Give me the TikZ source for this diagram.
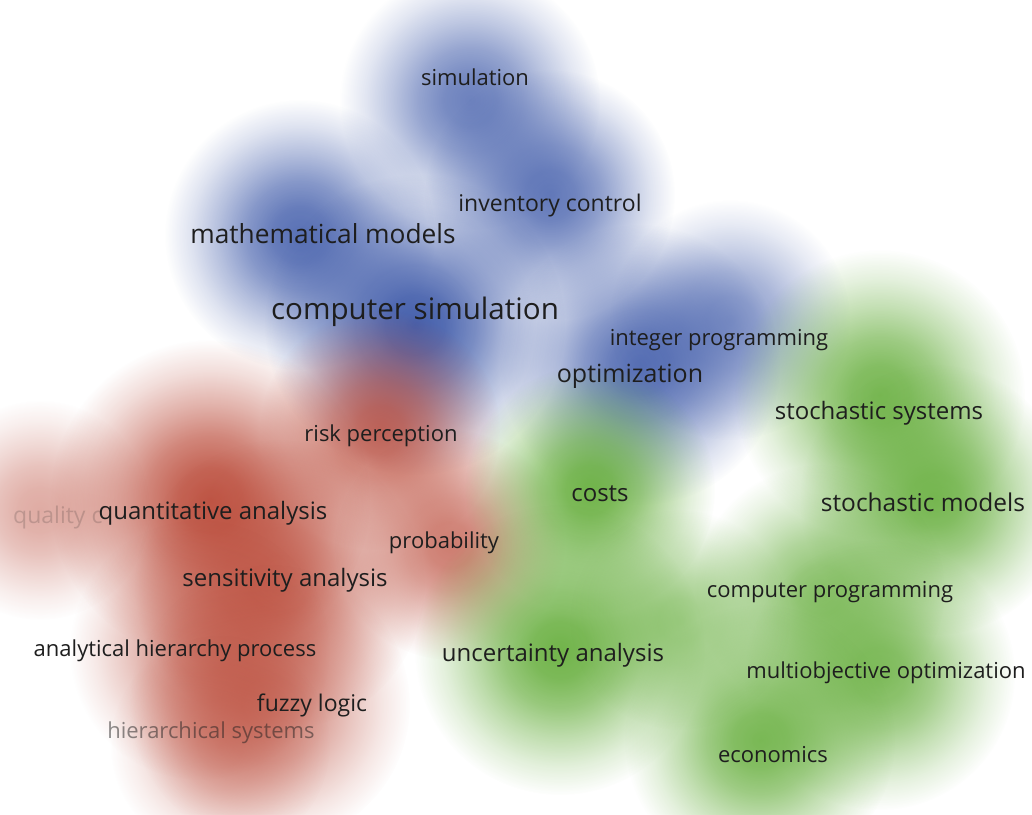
\documentclass[tikz,border=0pt]{standalone}
\usepackage{fontspec}
\setmainfont{Open Sans}
\usetikzlibrary{fadings}
\pgfdeclareradialshading{blobshade}{\pgfpointorigin}{color(0bp)=(white); color(5bp)=(black!8); color(10bp)=(black!28); color(15bp)=(black!55); color(20bp)=(black!80); color(25bp)=(black); color(50bp)=(black)}
\pgfdeclarefading{blob}{\pgfuseshading{blobshade}}
\definecolor{vblue}{RGB}{60,88,168}
\definecolor{vred}{RGB}{185,70,52}
\definecolor{vgreen}{RGB}{98,172,55}
\definecolor{txt}{RGB}{30,30,30}
\begin{document}
\begin{tikzpicture}[x=1pt,y=-1pt,
  lbl/.style={text=txt,inner sep=0pt,font=\fontsize{#1}{#1}\selectfont},
  bb/.style={fill=vblue,path fading=blob,fill opacity=#1},
  rb/.style={fill=vred,path fading=blob,fill opacity=#1},
  gb/.style={fill=vgreen,path fading=blob,fill opacity=#1}]
\fill[white] (0,0) rectangle (1032,814);
\useasboundingbox (0,0) rectangle (1032,814);
% blue
\fill[bb=0.75] (470,100) circle[radius=130pt];
\fill[bb=0.8] (550,195) circle[radius=125pt];
\fill[bb=0.85] (300,235) circle[radius=135pt];
\fill[bb=0.95] (415,325) circle[radius=150pt];
\fill[bb=0.85] (640,365) circle[radius=140pt];
\fill[bb=0.6] (730,320) circle[radius=120pt];
% red
\fill[rb=0.8] (380,430) circle[radius=120pt];
\fill[rb=0.9] (210,500) circle[radius=160pt];
\fill[rb=0.45] (40,510) circle[radius=110pt];
\fill[rb=0.75] (280,585) circle[radius=145pt];
\fill[rb=0.7] (450,545) circle[radius=115pt];
\fill[rb=0.6] (200,650) circle[radius=130pt];
\fill[rb=0.65] (270,705) circle[radius=140pt];
\fill[rb=0.45] (220,745) circle[radius=110pt];
% green
\fill[gb=0.9] (590,490) circle[radius=125pt];
\fill[gb=0.85] (880,395) circle[radius=145pt];
\fill[gb=0.85] (935,500) circle[radius=135pt];
\fill[gb=0.9] (560,650) circle[radius=145pt];
\fill[gb=0.7] (820,590) circle[radius=125pt];
\fill[gb=0.8] (880,675) circle[radius=135pt];
\fill[gb=0.85] (760,740) circle[radius=135pt];
\fill[gb=0.6] (680,620) circle[radius=110pt];
% labels
\node[lbl=22] (simulation) at (475,77) {simulation};
\node[lbl=23] (invctrl) at (550,206) {inventory control};
\node[lbl=26.3] (mathmod) at (323,234) {mathematical models};
\node[lbl=29.6] (compsim) at (415,312) {computer simulation};
\node[lbl=22] (intprog) at (719,340) {integer programming};
\node[lbl=25] (optim) at (630,376) {optimization};
\node[lbl=24] (stochsys) at (879,413) {stochastic systems};
\node[lbl=22] (riskp) at (381,436) {risk perception};
\node[lbl=24] (costs) at (600,494) {costs};
\node[lbl=24.5] (stochmod) at (923,502) {stochastic models};
\node[lbl=23,text opacity=0.18,anchor=west] (qualc) at (13,518) {quality c};
\node[lbl=24] (quant) at (213,513) {quantitative analysis};
\node[lbl=22] (prob) at (444,543) {probability};
\node[lbl=24] (sens) at (285,580) {sensitivity analysis};
\node[lbl=22] (compprog) at (830,592) {computer programming};
\node[lbl=22] (ahp) at (175,651) {analytical hierarchy process};
\node[lbl=24] (unc) at (553,655) {uncertainty analysis};
\node[lbl=22] (multi) at (886,673) {multiobjective optimization};
\node[lbl=23] (fuzzy) at (312,705) {fuzzy logic};
\node[lbl=22,text opacity=0.5] (hiersys) at (211,733) {hierarchical systems};
\node[lbl=22] (econ) at (773,755) {economics};
\end{tikzpicture}
\end{document}
